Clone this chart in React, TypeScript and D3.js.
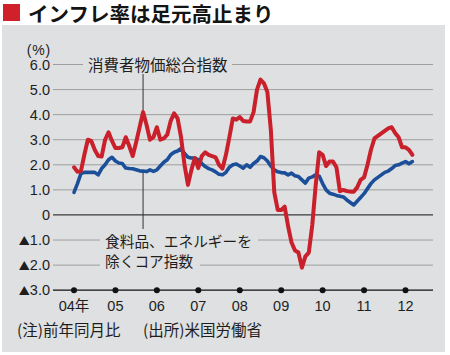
import React from "react";
import * as d3 from "d3";

// Monthly year-over-year rates, Jan 2004 .. Mar 2012
const allItems: number[] = [
  1.9, 1.72, 1.75, 2.4, 3.0, 2.95, 2.6, 2.35, 2.33, 3.0, 3.3, 2.95, // 2004
  2.67, 2.67, 2.7, 3.1, 2.75, 2.35, 2.9, 3.5, 4.1, 3.6, 3.0, 3.1, // 2005
  3.5, 3.0, 3.05, 3.2, 3.75, 4.05, 3.85, 3.1, 2.0, 1.2, 1.8, 2.27, // 2006
  1.87, 2.35, 2.5, 2.4, 2.35, 2.3, 2.0, 1.85, 2.4, 3.1, 3.85, 3.8, // 2007
  3.9, 3.75, 3.73, 3.73, 4.1, 5.0, 5.4, 5.25, 4.9, 3.4, 0.9, 0.2, // 2008
  0.2, 0.33, -0.45, -1.1, -1.42, -1.5, -2.1, -1.65, -1.5, -0.4, 1.2, 2.5, // 2009
  2.4, 1.95, 2.13, 2.13, 1.9, 0.95, 1.0, 0.95, 0.93, 0.93, 1.1, 1.4, // 2010
  1.5, 2.0, 2.6, 3.05, 3.15, 3.25, 3.35, 3.45, 3.5, 3.27, 3.1, 2.7, // 2011
  2.7, 2.6, 2.4, // 2012
];

const coreIndex: number[] = [
  0.9, 1.25, 1.65, 1.7, 1.7, 1.7, 1.7, 1.6, 1.85, 2.0, 2.2, 2.3, // 2004
  2.15, 2.07, 2.05, 1.87, 1.85, 1.84, 1.8, 1.76, 1.75, 1.73, 1.8, 1.74, // 2005
  1.8, 1.95, 2.1, 2.2, 2.4, 2.5, 2.55, 2.65, 2.45, 2.3, 2.27, 2.27, // 2006
  2.2, 2.05, 1.93, 1.85, 1.8, 1.72, 1.62, 1.6, 1.7, 1.9, 2.0, 2.03, // 2007
  1.95, 1.87, 2.0, 1.9, 2.05, 2.15, 2.33, 2.28, 2.15, 1.95, 1.8, 1.72, // 2008
  1.69, 1.68, 1.6, 1.67, 1.56, 1.53, 1.4, 1.27, 1.47, 1.52, 1.6, 1.55, // 2009
  1.25, 1.0, 0.87, 0.83, 0.78, 0.75, 0.72, 0.6, 0.5, 0.4, 0.55, 0.7, // 2010
  0.85, 1.05, 1.25, 1.4, 1.5, 1.6, 1.7, 1.75, 1.85, 1.97, 2.0, 2.07, // 2011
  2.13, 2.04, 2.13, // 2012
];

const yearLabels: string[] = ["04年", "05", "06", "07", "08", "09", "10", "11", "12"];
const yTickValues: number[] = [6, 5, 4, 3, 2, 1, 0, -1, -2, -3];

const titleText = "インフレ率は足元高止まり";
const labelAll = "消費者物価総合指数";
const labelCore1 = "食料品、エネルギーを";
const labelCore2 = "除くコア指数";
const noteText = "(注)前年同月比";
const sourceText = "(出所)米国労働省";

const JP = "'Noto Sans CJK JP', 'Noto Sans CJK SC', sans-serif";
const NUM = "'Liberation Sans', Arial, 'Noto Sans CJK JP', sans-serif";

const W = 450;
const H = 355;
const PANEL = "#dfe0e1";
const RED = "#c9202b";
const BLUE = "#1c4f9a";
const TEXT = "#1e1e1e";

export default function App() {
  const x = d3.scaleLinear().domain([0, 96]).range([74, 405.5]);
  const y = d3.scaleLinear().domain([-3, 6]).range([290.2, 64.5]);
  const gridX0 = 53;
  const gridX1 = 433;

  const line = d3
    .line<number>()
    .x((_, i) => x(i))
    .y((d) => y(d))
    .curve(d3.curveLinear);

  const leaderIdx = 20;
  const leaderX = x(leaderIdx);

  const fmt = (v: number) => (v === 0 ? "0" : Math.abs(v).toFixed(1));

  return (
    <svg
      width={W}
      height={H}
      viewBox={`0 0 ${W} ${H}`}
      style={{ position: "absolute", left: 0, top: 0, display: "block" }}
    >
      <rect x={0} y={0} width={W} height={H} fill="#ffffff" />
      {/* title */}
      <rect x={3} y={4} width={17} height={17} fill="#d0202a" />
      <text
        x={28}
        y={21.5}
        fontFamily={JP}
        fontWeight={700}
        fontSize={20.5}
        fill="#141414"
      >
        {titleText}
      </text>

      {/* panel */}
      <rect x={2} y={25} width={443} height={327} fill={PANEL} />

      {/* grid lines */}
      {yTickValues
        .filter((v) => v !== 0 && v !== -3)
        .map((v) => (
          <line
            key={"g" + v}
            x1={gridX0}
            x2={gridX1}
            y1={y(v)}
            y2={y(v)}
            stroke="#9e9e9e"
            strokeWidth={1}
          />
        ))}
      <line x1={gridX0} x2={gridX1} y1={y(0)} y2={y(0)} stroke="#3a3a3a" strokeWidth={1.2} />

      {/* gaps behind annotations */}
      <rect x={83} y={y(6) - 3} width={149} height={6} fill={PANEL} />
      <rect x={100} y={y(-1) - 3} width={158} height={6} fill={PANEL} />
      <rect x={100} y={y(-2) - 3} width={100} height={6} fill={PANEL} />

      {/* bottom axis */}
      <line x1={gridX0} x2={gridX1} y1={y(-3)} y2={y(-3)} stroke="#111" strokeWidth={1.3} />
      {yearLabels.map((lab, i) => (
        <g key={"xt" + i}>
          <circle cx={x(i * 12)} cy={y(-3)} r={3} fill="#111" />
          <text
            x={x(i * 12)}
            y={311}
            textAnchor="middle"
            fontFamily={NUM}
            fontSize={14.5}
            fill={TEXT}
          >
            {lab}
          </text>
        </g>
      ))}

      {/* y tick labels */}
      {yTickValues.map((v) => (
        <text
          key={"yt" + v}
          x={50}
          y={y(v) + 5.2}
          textAnchor="end"
          fontFamily={NUM}
          fontSize={14.5}
          fill={TEXT}
        >
          {v < 0 ? (
            <tspan fontSize={11} fontFamily={JP}>
              ▲
            </tspan>
          ) : null}
          {fmt(v)}
        </text>
      ))}
      <text x={51} y={54.5} textAnchor="end" fontFamily={NUM} fontSize={14} letterSpacing={0.8} fill={TEXT}>
        (%)
      </text>

      {/* leader lines */}
      <line
        x1={leaderX}
        x2={leaderX}
        y1={74}
        y2={y(allItems[leaderIdx])}
        stroke="#333"
        strokeWidth={1}
      />
      <line
        x1={leaderX}
        x2={leaderX}
        y1={y(coreIndex[leaderIdx])}
        y2={229}
        stroke="#333"
        strokeWidth={1}
      />

      {/* series */}
      <path
        d={line(coreIndex) || ""}
        fill="none"
        stroke={BLUE}
        strokeWidth={3.6}
        strokeLinejoin="round"
        strokeLinecap="round"
      />
      <path
        d={line(allItems) || ""}
        fill="none"
        stroke={RED}
        strokeWidth={4}
        strokeLinejoin="round"
        strokeLinecap="round"
      />

      {/* annotations */}
      <text x={88} y={70.5} fontFamily={JP} fontSize={15.5} fill={TEXT}>
        {labelAll}
      </text>
      <text x={105} y={246.5} fontFamily={JP} fontSize={14.7} fill={TEXT}>
        {labelCore1}
      </text>
      <text x={105} y={266.5} fontFamily={JP} fontSize={14.7} fill={TEXT}>
        {labelCore2}
      </text>

      {/* footnote */}
      <text x={17} y={336} fontFamily={JP} fontSize={15.5} fill={TEXT}>
        {noteText}
      </text>
      <text x={143} y={336} fontFamily={JP} fontSize={15.5} fill={TEXT}>
        {sourceText}
      </text>
    </svg>
  );
}
